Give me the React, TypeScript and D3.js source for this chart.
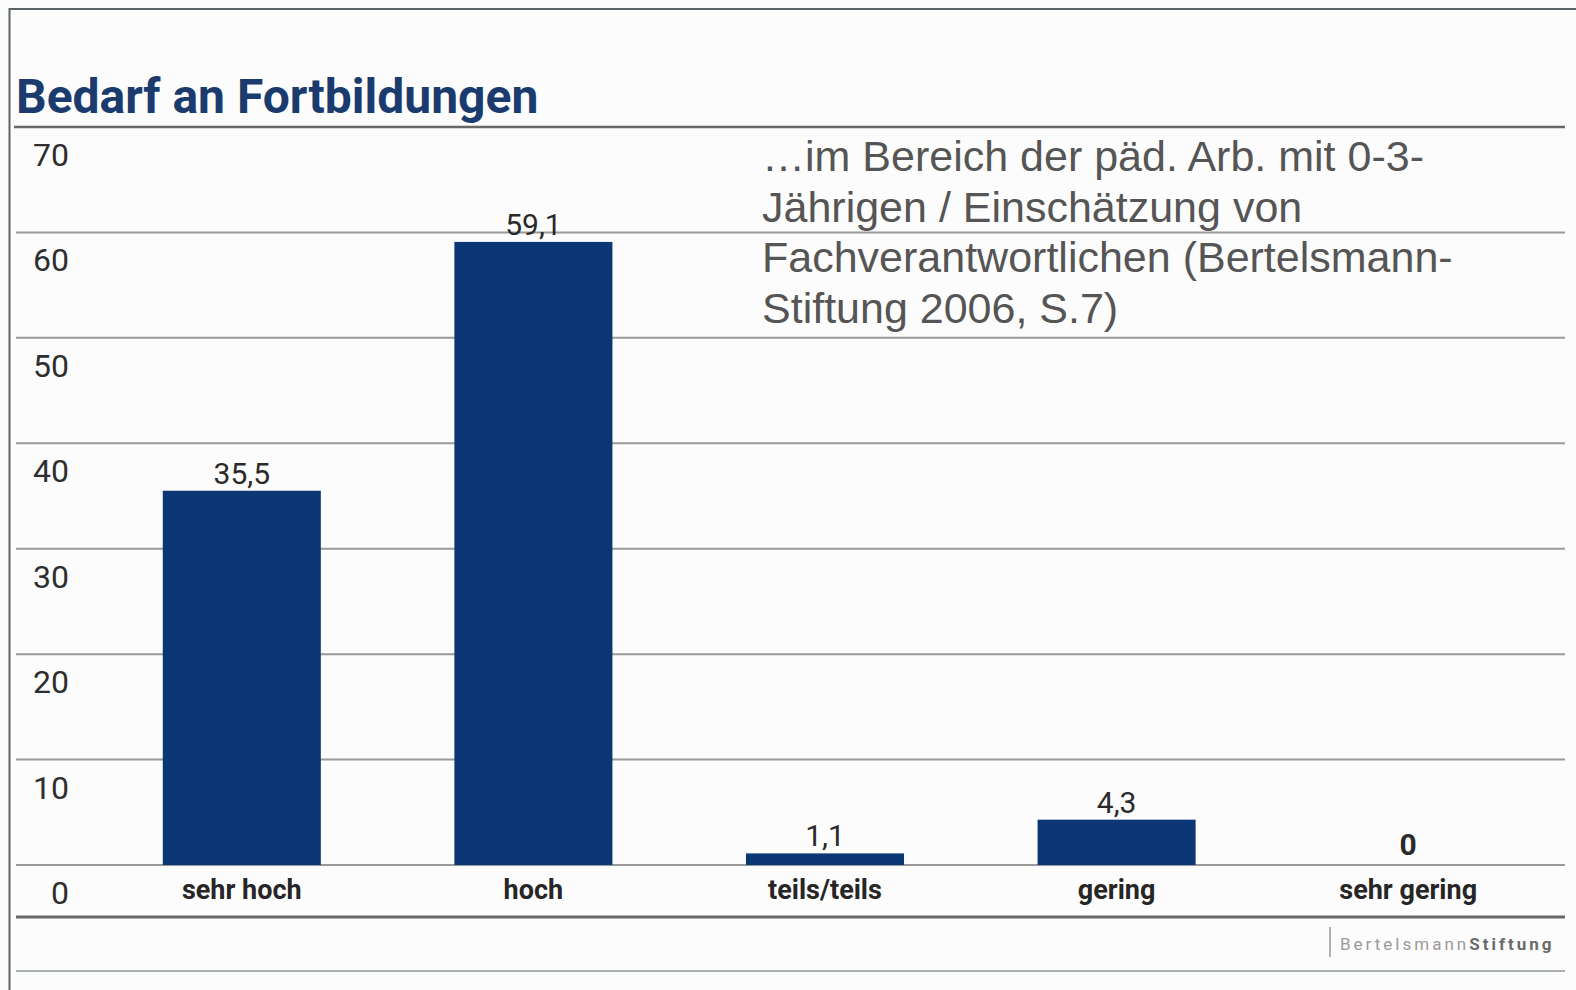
import * as d3 from 'd3';

const categories = ['sehr hoch', 'hoch', 'teils/teils', 'gering', 'sehr gering'];
const values = [35.5, 59.1, 1.1, 4.3, 0];
const valueLabels = ['35,5', '59,1', '1,1', '4,3', '0'];
const yTicks = [0, 10, 20, 30, 40, 50, 60, 70];
const noteLines = [
  '…im Bereich der päd. Arb. mit 0-3-',
  'Jährigen / Einschätzung von',
  'Fachverantwortlichen (Bertelsmann-',
  'Stiftung 2006, S.7)',
];

const W = 1576;
const H = 990;

const App = () => {
  const y = d3.scaleLinear().domain([0, 70]).range([865, 127]);
  const x = d3.scaleBand<string>()
    .domain(categories)
    .range([96, 1554])
    .paddingInner(0.458)
    .paddingOuter(0.229);

  const barColor = '#0b3875';
  const gridColor = '#9a9a9a';

  return (
    <svg
      width={W}
      height={H}
      style={{ position: 'absolute', left: 0, top: 0, background: '#fcfcfc' }}
    >
      {/* frame */}
      <line x1={9} x2={W} y1={9} y2={9} stroke="#5c6468" strokeWidth={2} />
      <line x1={9.5} x2={9.5} y1={8} y2={H} stroke="#5c6468" strokeWidth={2} />

      {/* title */}
      <text x={16} y={113} fontFamily="Roboto" fontWeight={700} fontSize={48} fill="#1b3b6e">
        Bedarf an Fortbildungen
      </text>

      {/* gridlines */}
      {yTicks.map(t => (
        <line
          key={'g' + t}
          x1={t === 70 ? 14 : 16}
          x2={1565}
          y1={y(t)}
          y2={y(t)}
          stroke={t === 70 ? '#666' : gridColor}
          strokeWidth={t === 70 ? 2.5 : 2}
        />
      ))}

      {/* y tick labels, sitting below their lines */}
      {yTicks.map(t => (
        <text
          key={'t' + t}
          x={69}
          y={y(t) + 39}
          textAnchor="end"
          fontFamily="Roboto"
          fontSize={32}
          fill="#2e2e2e"
        >
          {t}
        </text>
      ))}

      {/* note */}
      {noteLines.map((l, i) => (
        <text
          key={'n' + i}
          x={762}
          y={171 + i * 50.5}
          fontFamily="Liberation Sans, Arial"
          fontSize={43}
          fill="#555"
        >
          {l}
        </text>
      ))}

      {/* bars */}
      {categories.map((c, i) => (
        <rect
          key={'b' + c}
          x={x(c)}
          y={y(values[i])}
          width={x.bandwidth()}
          height={y(0) - y(values[i])}
          fill={barColor}
        />
      ))}

      {/* value labels */}
      {categories.map((c, i) => (
        <text
          key={'v' + c}
          x={(x(c) ?? 0) + x.bandwidth() / 2}
          y={y(values[i]) - (values[i] === 0 ? 10 : 7)}
          textAnchor="middle"
          fontFamily="Roboto"
          fontSize={30}
          fontWeight={values[i] === 0 ? 700 : 400}
          fill="#2a2a2a"
        >
          {valueLabels[i]}
        </text>
      ))}

      {/* category labels */}
      {categories.map(c => (
        <text
          key={'c' + c}
          x={(x(c) ?? 0) + x.bandwidth() / 2}
          y={899}
          textAnchor="middle"
          fontFamily="Roboto"
          fontWeight={700}
          fontSize={27}
          fill="#262626"
        >
          {c}
        </text>
      ))}

      {/* footer rules */}
      <line x1={16} x2={1565} y1={917} y2={917} stroke="#666" strokeWidth={3} />
      <line x1={16} x2={1565} y1={971} y2={971} stroke="#a8b0b4" strokeWidth={2} />

      {/* logo */}
      <line x1={1330} x2={1330} y1={927} y2={957} stroke="#999" strokeWidth={1.5} />
      <text x={1340} y={950} fontFamily="Roboto" fontSize={17} letterSpacing={3}>
        <tspan fill="#9a9a9a">Bertelsmann</tspan>
        <tspan fill="#6a6a6a" fontWeight={700}>Stiftung</tspan>
      </text>
    </svg>
  );
};

export default App;
